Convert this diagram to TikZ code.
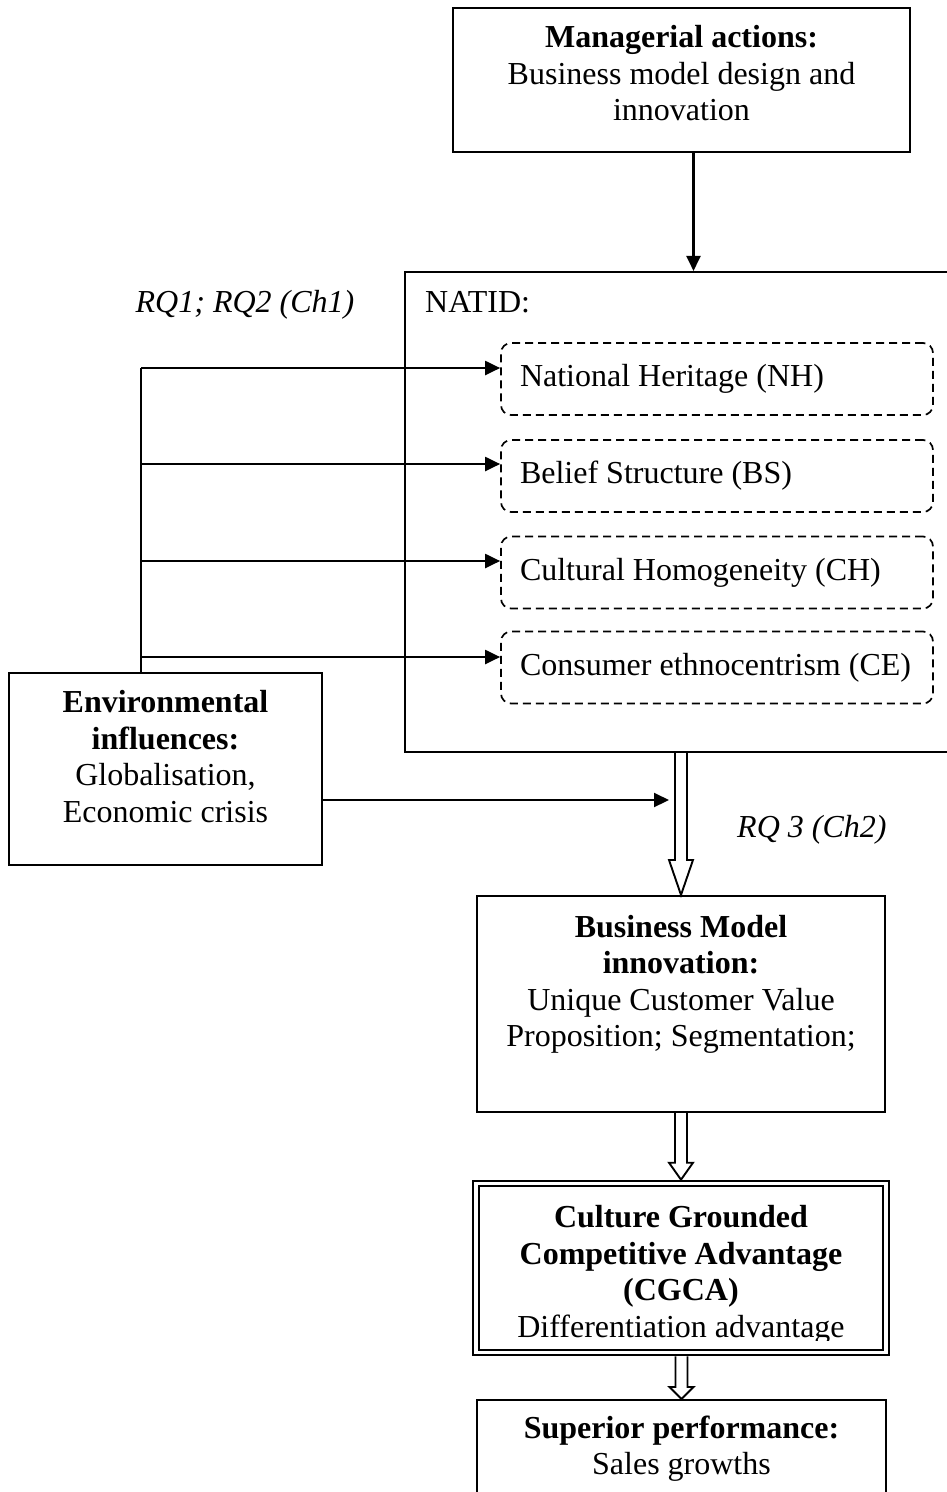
\documentclass[tikz,border=0pt]{standalone}
\usepackage{fontspec}
\setmainfont{Liberation Serif}
\usetikzlibrary{calc,arrows.meta}
\newcommand{\hollowarr}[3]{%
  \draw[hollow] let \p1=(#1), \p2=(#2) in
    (\x2-6pt,\y1) -- (\x2-6pt,\y2+#3) -- (\x2-12pt,\y2+#3) -- (\x2,\y2)
    -- (\x2+12pt,\y2+#3) -- (\x2+6pt,\y2+#3) -- (\x2+6pt,\y1);}
\begin{document}
\begin{tikzpicture}[x=1pt,y=-1pt,
  every node/.style={font=\fontsize{32}{36.6}\selectfont},
  box/.style={draw, line width=2.1pt, inner sep=0pt},
  dbox/.style={draw, line width=1.7pt, dash pattern=on 8pt off 5pt, rounded corners=10pt,
    minimum width=432pt, minimum height=72pt, inner xsep=19pt, inner ysep=0pt},
  txt/.style={align=center, inner sep=0pt},
  conn/.style={line width=2.1pt, -{Triangle[length=15pt,width=14pt]}},
  trunkline/.style={line width=2.1pt},
  hollow/.style={line width=1.9pt, line join=miter},
]
\useasboundingbox (0,0) rectangle (947,1492);

% Managerial actions
\node[box, minimum width=457pt, minimum height=144pt] (mgr) at (681.5,80) {};
\node[txt] (mgrt) at (681.5,76.7) {\strut\textbf{Managerial actions:}\\Business model design and\\innovation\strut};

% NATID container
\node[box, minimum width=560pt, minimum height=480pt] (natid) at (685,512) {};
\node[txt, anchor=base west] (natidt) at (425,312) {NATID:};
\node[txt, anchor=base] (rq12) at (245,312) {\textit{RQ1; RQ2 (Ch1)}};

% dashed items
\node[dbox] (nh) at (717,379) {\makebox[394pt][l]{National Heritage (NH)}};
\node[dbox] (bs) at (717,476) {\makebox[394pt][l]{Belief Structure (BS)}};
\node[dbox] (ch) at (717,572.5) {\makebox[394pt][l]{Cultural Homogeneity (CH)}};
\node[dbox] (ce) at (717,667.5) {\makebox[394pt][l]{Consumer ethnocentrism (CE)}};

% Environmental influences
\node[box, minimum width=313pt, minimum height=192pt] (env) at (165.5,769) {};
\node[txt] (envt) at (165.5,760.2) {\strut\textbf{Environmental}\\\textbf{influences:}\\Globalisation,\\Economic crisis\strut};

% Business model innovation
\node[box, minimum width=408pt, minimum height=216pt] (bm) at (681,1004) {};
\node[txt] (bmt) at (681,984.7) {\strut\textbf{Business Model}\\\textbf{innovation:}\\Unique Customer Value\\Proposition; Segmentation;\strut};

\node[txt, anchor=base west] (rq3) at (737,837) {\textit{RQ 3 (Ch2)}};

% CGCA
\node[draw, line width=2pt, double, double distance=3.6pt, minimum width=410pt,
  minimum height=169pt, inner sep=0pt, outer sep=3.8pt] (cgca) at (681,1268) {};
\begin{scope}
  \clip (cgca.north west) rectangle ($(cgca.south east)+(0,-16)$);
  \node[txt] (cgcat) at (681,1275) {\strut\textbf{Culture Grounded}\\\textbf{Competitive Advantage}\\\textbf{(CGCA)}\\Differentiation advantage\strut};
\end{scope}

% Superior performance
\node[box, minimum width=409pt, minimum height=130pt] (sup) at (681.5,1465) {};
\node[txt] (supt) at (681.5,1449.2) {\strut\textbf{Superior performance:}\\Sales growths\strut};

% connectors
\coordinate (mo) at ($(mgr.south)+(12,0)$);
\draw[conn] (mo) -- (mo |- natid.north);

\coordinate (trunk) at (141,0);
\coordinate (nhin) at ($(nh.west)+(0,-11)$);
\coordinate (bsin) at ($(bs.west)+(0,-12)$);
\coordinate (chin) at ($(ch.west)+(0,-11.5)$);
\coordinate (cein) at ($(ce.west)+(0,-10.5)$);
\draw[trunkline] (trunk |- env.north) -- (trunk |- nhin);
\draw[conn] (trunk |- nhin) -- (nhin);
\draw[conn] (trunk |- bsin) -- (bsin);
\draw[conn] (trunk |- chin) -- (chin);
\draw[conn] (trunk |- cein) -- (cein);

\coordinate (eo) at ($(env.east)+(0,31)$);
\draw[conn] (eo) -- ($(eo -| bm.north)+(-12,0)$);

\hollowarr{natid.south}{bm.north}{35pt}
\hollowarr{bm.south}{cgca.north}{17pt}
\hollowarr{cgca.south}{sup.north}{12pt}
\end{tikzpicture}
\end{document}
